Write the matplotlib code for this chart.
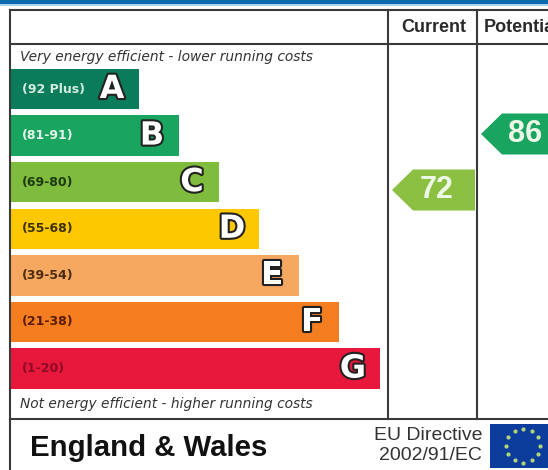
#!/usr/bin/env python3
import numpy as np
import matplotlib
matplotlib.use('Agg')
import matplotlib.pyplot as plt
import matplotlib.patheffects as pe
from matplotlib.patches import Polygon, Rectangle

letters = ['A', 'B', 'C', 'D', 'E', 'F', 'G']
ranges = ['(92 Plus)', '(81-91)', '(69-80)', '(55-68)', '(39-54)', '(21-38)', '(1-20)']
bar_lengths = [129, 169, 209, 249, 289, 329, 370]
bar_colors = ['#0b7c5a', '#19a45f', '#7fbb3c', '#fdc800', '#f6a760', '#f47d20', '#e8173c']
range_colors = ['#d5ece2', '#e6f5ec', '#1d3a10', '#3d3000', '#4a2c12', '#5a1c06', '#8c0c26']

current = 72
potential = 86
current_color = '#8cc043'
potential_color = '#19a45f'

plt.rcParams['font.family'] = ['Liberation Sans', 'DejaVu Sans']

fig = plt.figure(figsize=(5.48, 4.70), dpi=100)
ax = fig.add_axes([0, 0, 1, 1])
ax.set_xlim(0, 548)
ax.set_ylim(470, 0)
ax.axis('off')

# top strip
ax.add_patch(Rectangle((0, 0), 548, 4, color='#0a69ab', lw=0))
ax.add_patch(Rectangle((0, 4), 548, 2, color='#a6d5ec', lw=0))

# table lines
line = '#3a3a3a'
ax.plot([9.5, 548], [10, 10], color=line, lw=1.5)
ax.plot([9.5, 548], [44, 44], color=line, lw=1.5)
ax.plot([9.5, 548], [419, 419], color=line, lw=1.5)
ax.plot([9.5, 9.5], [10, 470], color=line, lw=1.5)
ax.plot([388, 388], [10, 419], color=line, lw=1.5)
ax.plot([477, 477], [10, 419], color=line, lw=1.5)

ax.text(433.5, 27, 'Current', ha='center', va='center', fontsize=13, fontweight='bold', color='#2a2a2a')
ax.text(484, 27, 'Potential', ha='left', va='center', fontsize=13, fontweight='bold', color='#2a2a2a', clip_on=True)

ax.text(20, 57, 'Very energy efficient - lower running costs', ha='left', va='center',
        fontsize=9.9, style='italic', color='#333333', family='DejaVu Sans')
ax.text(20, 404, 'Not energy efficient - higher running costs', ha='left', va='center',
        fontsize=9.9, style='italic', color='#333333', family='DejaVu Sans')

# bands, one row per letter
y = np.arange(len(letters))
top = 65.7
pitch = 46.6
rows = top + pitch / 2 + y * pitch
ax.barh(rows, bar_lengths, height=40.5, left=10, color=bar_colors, lw=0)

for i in y:
    ax.text(22, rows[i], ranges[i], ha='left', va='center', fontsize=9,
            fontweight='bold', color=range_colors[i], family='DejaVu Sans')
    ax.text(10 + bar_lengths[i] - 27, rows[i] + 0.5, letters[i], ha='center', va='center',
            fontsize=23, fontweight='bold', color='white', family='DejaVu Sans',
            path_effects=[pe.withStroke(linewidth=3, foreground='#222222')])


def arrow(tip, right, cy, value, color, text_x):
    ax.add_patch(Polygon([(tip, cy), (tip + 21, cy - 20.5), (right, cy - 20.5),
                          (right, cy + 20.5), (tip + 21, cy + 20.5)], closed=True,
                         color=color, lw=0))
    ax.text(text_x, cy, str(value), ha='center', va='center', fontsize=22,
            fontweight='bold', color='#eef8e6')


arrow(392, 475, 190, current, current_color, 436.5)
arrow(481, 548, 134, potential, potential_color, 525.5)

# footer
ax.text(30, 447.5, 'England & Wales', ha='left', va='center', fontsize=21.2,
        fontweight='bold', color='#111111')
ax.text(482, 435, 'EU Directive', ha='right', va='center', fontsize=14, color='#333333')
ax.text(482, 456, '2002/91/EC', ha='right', va='center', fontsize=14, color='#333333')

# flag
ax.add_patch(Rectangle((490, 424), 58, 44, color='#0d3d9c', lw=0))
angles = np.arange(12) * np.pi / 6
ax.scatter(523 + 17 * np.cos(angles), 445.5 + 17 * np.sin(angles), marker='o', s=9,
           color='#b5d37a', lw=0, zorder=3)

fig.savefig('out.png', dpi=100)
